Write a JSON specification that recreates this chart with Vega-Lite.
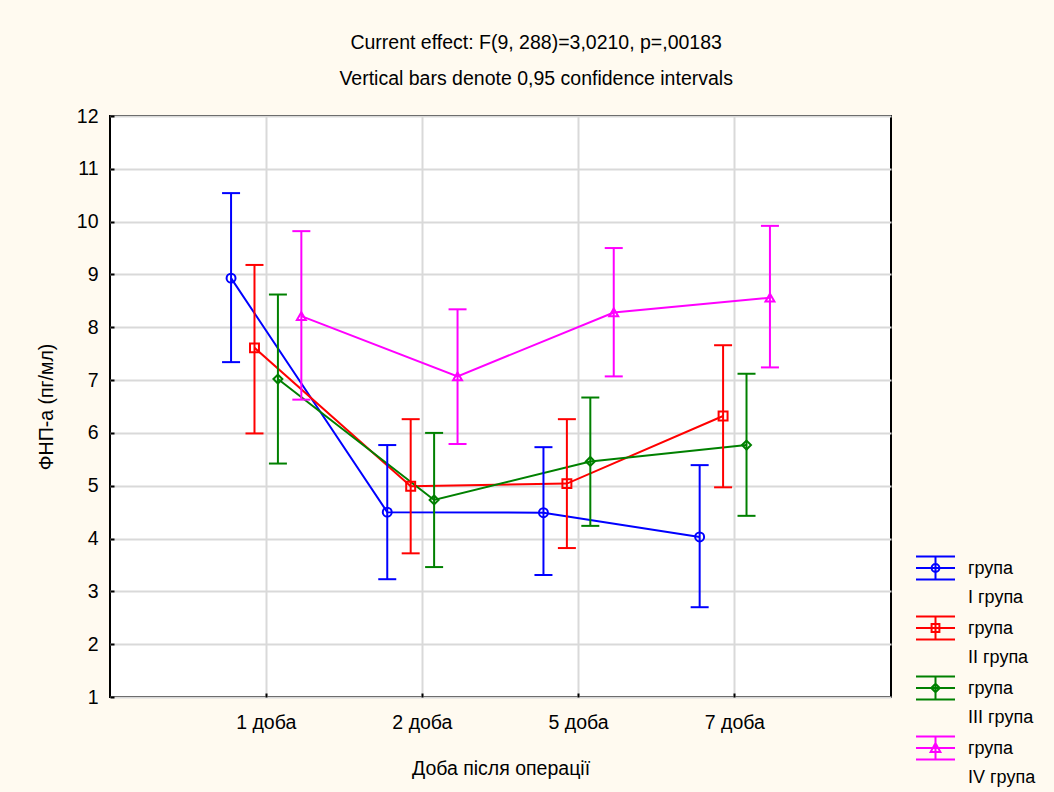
{
  "$schema": "https://vega.github.io/schema/vega-lite/v6.json",
  "width": 781,
  "height": 581,
  "autosize": {"type": "none"},
  "padding": {"left": 110, "top": 116, "right": 163, "bottom": 95},
  "background": "#FFFAF0",
  "config": {
    "font": "Liberation Sans",
    "view": {"fill": "white", "stroke": "black", "strokeWidth": 2},
    "axis": {"labelFontSize": 19.5, "titleFontSize": 19.5, "labelColor": "black", "titleColor": "black", "titleFontWeight": "normal", "gridColor": "#d9d9d9", "gridWidth": 2, "domain": false, "ticks": true, "tickSize": -4, "tickColor": "black", "tickWidth": 2}
  },
  "title": {
    "text": ["Current effect: F(9, 288)=3,0210, p=,00183", "Vertical bars denote 0,95 confidence intervals"],
    "fontSize": 19.5,
    "fontWeight": "normal",
    "lineHeight": 36,
    "anchor": "middle",
    "frame": "bounds",
    "offset": 17,
    "color": "black"
  },
  "data": {
    "values": [
      {"day": "1 доба", "group": "I група", "mean": 8.93, "lo": 7.34, "hi": 10.54},
      {"day": "2 доба", "group": "I група", "mean": 4.5, "lo": 3.23, "hi": 5.77},
      {"day": "5 доба", "group": "I група", "mean": 4.49, "lo": 3.31, "hi": 5.73},
      {"day": "7 доба", "group": "I група", "mean": 4.03, "lo": 2.7, "hi": 5.39},
      {"day": "1 доба", "group": "II група", "mean": 7.61, "lo": 5.99, "hi": 9.18},
      {"day": "2 доба", "group": "II група", "mean": 4.99, "lo": 3.72, "hi": 6.26},
      {"day": "5 доба", "group": "II група", "mean": 5.04, "lo": 3.82, "hi": 6.26},
      {"day": "7 доба", "group": "II група", "mean": 6.32, "lo": 4.97, "hi": 7.66},
      {"day": "1 доба", "group": "III група", "mean": 7.02, "lo": 5.42, "hi": 8.62},
      {"day": "2 доба", "group": "III група", "mean": 4.73, "lo": 3.46, "hi": 6.0},
      {"day": "5 доба", "group": "III група", "mean": 5.46, "lo": 4.24, "hi": 6.67},
      {"day": "7 доба", "group": "III група", "mean": 5.77, "lo": 4.43, "hi": 7.12},
      {"day": "1 доба", "group": "IV група", "mean": 8.21, "lo": 6.63, "hi": 9.82},
      {"day": "2 доба", "group": "IV група", "mean": 7.07, "lo": 5.79, "hi": 8.34},
      {"day": "5 доба", "group": "IV група", "mean": 8.28, "lo": 7.07, "hi": 9.5},
      {"day": "7 доба", "group": "IV група", "mean": 8.56, "lo": 7.24, "hi": 9.92}
    ]
  },
  "encoding": {
    "x": {
      "field": "day", "type": "nominal",
      "scale": {"type": "band", "paddingInner": 0.4, "paddingOuter": 0.7},
      "axis": {"labelAngle": 0, "bandPosition": 0.5, "grid": true, "labelPadding": 20, "titlePadding": 28, "title": "Доба після операції"}
    },
    "xOffset": {"field": "group", "type": "nominal", "scale": {"type": "band", "paddingInner": 0, "paddingOuter": 0}},
    "color": {
      "field": "group", "type": "nominal",
      "scale": {"domain": ["I група", "II група", "III група", "IV група"], "range": ["#0000FF", "#FF0000", "#008000", "#FF00FF"]},
      "legend": {
        "orient": "none",
        "legendX": 805,
        "legendY": 431.5,
        "title": null,
        "symbolSize": 1521,
        "symbolStrokeWidth": 2,
        "labelFontSize": 18,
        "labelColor": "black",
        "labelLimit": 200,
        "labelOffset": 12,
        "labelBaseline": "top",
        "labelExpr": "['група', datum.label]",
        "rowPadding": -1.8,
        "encode": {
          "labels": {"update": {"lineHeight": {"value": 29}, "dy": {"value": -8}}},
          "symbols": {"update": {
            "fill": {"value": "transparent"},
            "strokeWidth": {"value": 2},
            "shape": {"signal": "datum.value === 'I група' ? 'M-1,-0.59H1M-1,0.59H1M0,-0.59V0.59M-1,0H1M-0.2,0A0.2,0.2 0 1,0 0.2,0A0.2,0.2 0 1,0 -0.2,0' : datum.value === 'II група' ? 'M-1,-0.59H1M-1,0.59H1M0,-0.59V0.59M-1,0H1M-0.2,-0.2H0.2V0.2H-0.2Z' : datum.value === 'III група' ? 'M-1,-0.59H1M-1,0.59H1M0,-0.59V0.59M-1,0H1M0,-0.22L0.22,0L0,0.22L-0.22,0Z' : 'M-1,-0.59H1M-1,0.59H1M0,-0.59V0.59M-1,0H1M0,-0.25L0.25,0.2H-0.25Z'"}
          }}
        }
      }
    }
  },
  "layer": [
    {
      "mark": {"type": "line", "strokeWidth": 2},
      "encoding": {
        "y": {"field": "mean", "type": "quantitative", "scale": {"domain": [1, 12], "nice": false}, "axis": {"values": [1,2,3,4,5,6,7,8,9,10,11,12], "labelPadding": 16, "titlePadding": 20, "title": "ФНП-а (пг/мл)"}}
      }
    },
    {
      "mark": {"type": "rule", "strokeWidth": 2},
      "encoding": {"y": {"field": "lo", "type": "quantitative"}, "y2": {"field": "hi"}}
    },
    {
      "mark": {"type": "point", "shape": "stroke", "filled": false, "strokeWidth": 2, "size": 324, "opacity": 1},
      "encoding": {"y": {"field": "lo", "type": "quantitative"}}
    },
    {
      "mark": {"type": "point", "shape": "stroke", "filled": false, "strokeWidth": 2, "size": 324, "opacity": 1},
      "encoding": {"y": {"field": "hi", "type": "quantitative"}}
    },
    {
      "mark": {"type": "point", "filled": false, "strokeWidth": 2, "size": 80, "opacity": 1},
      "encoding": {
        "y": {"field": "mean", "type": "quantitative"},
        "shape": {"field": "group", "type": "nominal", "scale": {"domain": ["IV група", "III група", "II група", "I група"], "range": ["triangle-up", "diamond", "square", "circle"]}, "legend": null}
      }
    }
  ]
}
